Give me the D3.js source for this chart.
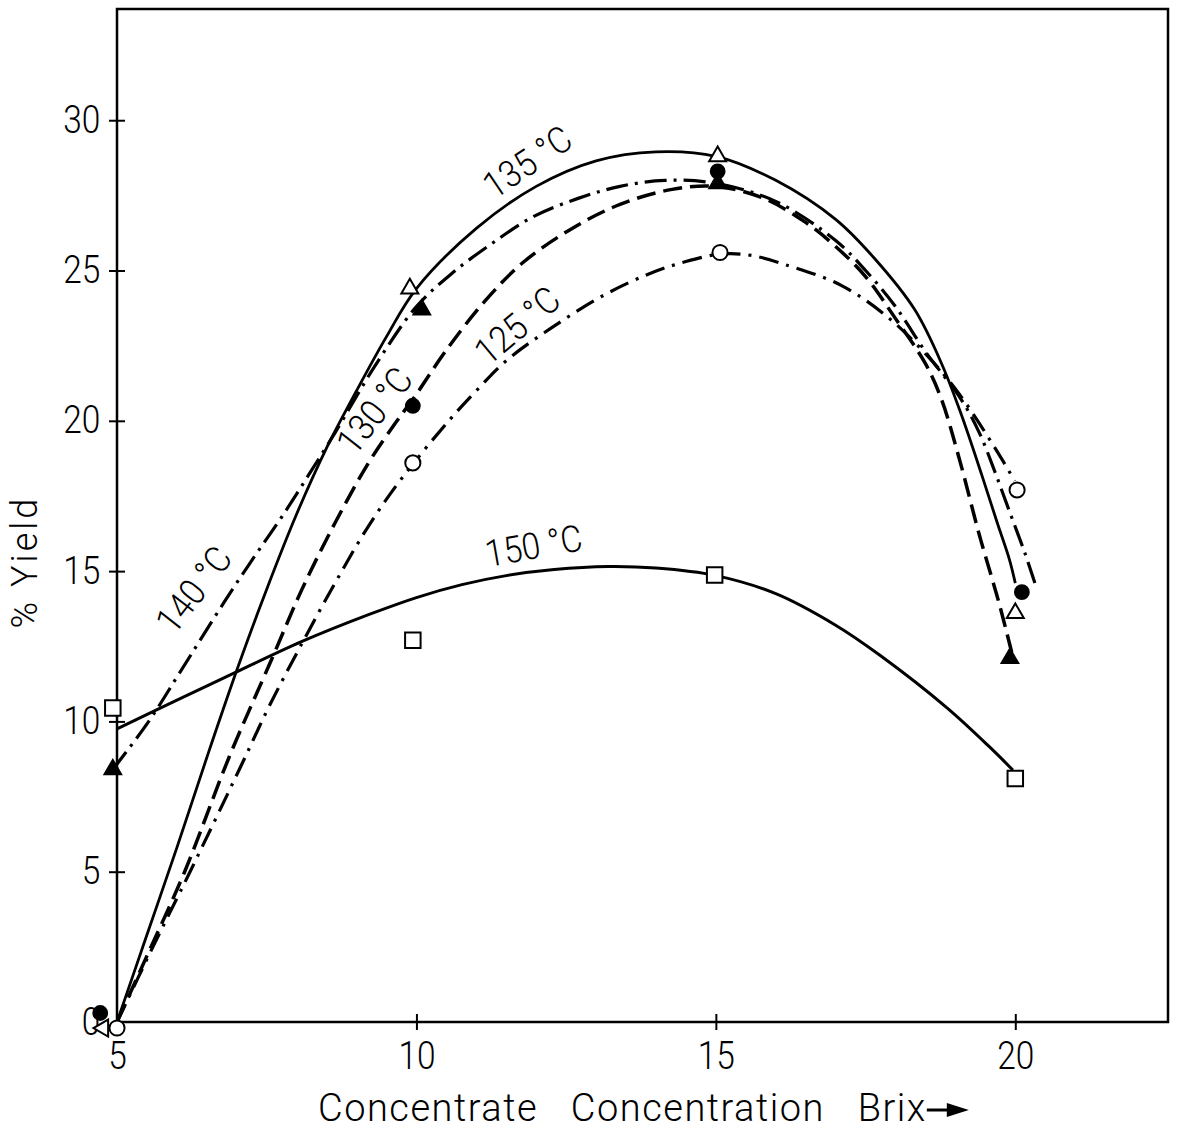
<!DOCTYPE html>
<html>
<head>
<meta charset="utf-8">
<script src="https://cdn.jsdelivr.net/npm/d3@7"></script>
<style>
  body { margin: 0; background: #fff; }
  text { font-family: "Roboto", "DejaVu Sans", sans-serif; font-weight: 300; fill: #000; }
</style>
</head>
<body>
<svg id="chart" width="1184" height="1131"></svg>
<script>
// tick values
const xTickVals = [5, 10, 15, 20];
const yTickVals = [0, 5, 10, 15, 20, 25, 30];

// measured points (markers)
const pts125X = [5.0, 9.94, 15.07, 20.03];
const pts125Y = [-0.2, 18.6, 25.6, 17.7];
const pts130X = [4.72, 9.94, 15.03, 20.11];
const pts130Y = [0.3, 20.5, 28.3, 14.3];
const pts135X = [4.77, 9.89, 15.03, 20.0];
const pts135Y = [-0.2, 24.4, 28.8, 13.6];
const pts135Rot = [-90, 0, 0, 0];
const pts140X = [4.93, 10.09, 15.03, 19.91];
const pts140Y = [8.4, 23.7, 27.9, 12.1];
const pts150X = [4.93, 9.94, 14.98, 20.0];
const pts150Y = [10.45, 12.7, 14.87, 8.1];

// hand drawn fitted curves
const curve125X = [5, 5.6, 6.22, 7.09, 7.54, 8.09, 8.64, 9.2, 9.76, 10.54, 11, 11.5, 12.26, 13.15, 13.9, 14.5, 15.1, 15.6, 16.15, 17.1, 17.9, 18.56, 19.06, 19.66, 19.99];
const curve125Y = [0, 2.5, 5.0, 8.6, 10.5, 12.6, 14.6, 16.5, 18.1, 20.0, 21.0, 22.0, 23.1, 24.2, 24.9, 25.3, 25.55, 25.5, 25.2, 24.5, 23.4, 22.1, 20.9, 19.1, 18.0];
const curve130X = [5, 5.5, 6.13, 6.87, 7.59, 8.09, 8.64, 9.2, 9.64, 9.97, 10.48, 11.15, 11.8, 12.6, 13.4, 14.27, 15.0, 15.8, 16.5, 17, 17.5, 18, 18.5, 18.77, 19.07, 19.4, 19.72, 19.94];
const curve130Y = [0, 2.2, 5.0, 8.8, 12.1, 14.4, 16.6, 18.6, 19.9, 20.8, 22.3, 24.0, 25.3, 26.4, 27.2, 27.7, 27.8, 27.4, 26.6, 25.8, 24.8, 23.4, 21.9, 20.7, 18.7, 16.2, 14.0, 12.3];
const curve135X = [5, 5.5, 6, 6.5, 7, 7.5, 8, 8.5, 9, 9.5, 10, 11, 12, 13, 14, 15, 16, 17, 17.65, 18.32, 18.77, 19.1, 19.44, 19.7, 19.9, 20.0];
const curve135Y = [0, 2.9, 5.8, 8.8, 11.7, 14.4, 16.9, 19.1, 21.0, 22.8, 24.4, 26.4, 27.8, 28.65, 28.95, 28.8, 28.0, 26.7, 25.4, 23.7, 21.9, 20.2, 18.2, 16.6, 15.4, 14.6];
const curve140X = [4.93, 5.53, 6.04, 6.8, 7.3, 7.75, 8.2, 8.64, 9.3, 10.0, 10.59, 11.26, 11.96, 12.7, 13.4, 14.15, 15.0, 16, 17, 17.5, 18, 18.5, 19.1, 19.4, 19.66, 19.9, 20.16, 20.36];
const curve140Y = [8.4, 10.0, 11.6, 14.0, 15.5, 16.8, 18.2, 19.6, 21.8, 23.8, 24.9, 25.9, 26.8, 27.4, 27.8, 28.0, 27.9, 27.3, 26.0, 25.0, 23.8, 22.3, 20.7, 19.6, 18.3, 17.0, 15.6, 14.4];
const curve150X = [5, 6.08, 6.97, 8.09, 9.2, 10, 10.76, 11.5, 12.3, 13.2, 14, 15, 16, 17, 17.74, 18.86, 19.57, 19.96];
const curve150Y = [9.75, 10.78, 11.62, 12.66, 13.55, 14.12, 14.55, 14.85, 15.05, 15.15, 15.1, 14.85, 14.25, 13.2, 12.2, 10.45, 9.15, 8.38];

// curve labels
const labelText = ["125 °C", "130 °C", "135 °C", "140 °C", "150 °C"];
const labelX = [11.2, 8.97, 11.3, 5.95, 11.19];
const labelY = [21.8, 18.8, 27.35, 12.84, 15.14];
const labelAngle = [-40, -52, -34, -52, -10];

const svg = d3.select("#chart");
const x = d3.scaleLinear().domain([5, 22.55]).range([117, 1168]);
const y = d3.scaleLinear().domain([0, 33.7]).range([1022, 9]);

// frame
svg.append("rect")
    .attr("x", x(5)).attr("y", y(33.7))
    .attr("width", x(22.55) - x(5)).attr("height", y(0) - y(33.7))
    .attr("fill", "none").attr("stroke", "#000").attr("stroke-width", 2.5)

// axes
var xAxis = svg.append("g")
    .attr("transform", `translate(0,${y(0)})`)
    .call(d3.axisBottom(x).tickValues(xTickVals).tickSize(8).tickPadding(12).tickFormat(d => d))
xAxis.select(".domain").remove()
xAxis.selectAll(".tick line").attr("y1", -8).attr("stroke-width", 2)
    .filter(d => d === 5).remove()
xAxis.selectAll(".tick text").attr("font-size", 38).attr("font-family", null)
    .attr("transform", "scale(0.88,1)")

var yAxis = svg.append("g")
    .attr("transform", `translate(${x(5)},0)`)
    .call(d3.axisLeft(y).tickValues(yTickVals).tickSize(8).tickPadding(11).tickFormat(d => d))
yAxis.select(".domain").remove()
yAxis.selectAll(".tick line").attr("x1", 8).attr("stroke-width", 2)
    .filter(d => d === 0).remove()
yAxis.selectAll(".tick text").attr("font-size", 38).attr("font-family", null)
    .attr("transform", "scale(0.88,1)")

// curves
const curves = [
    { xs: curve125X, ys: curve125Y, dash: "20,8,3,8", w: 3.2 },
    { xs: curve130X, ys: curve130Y, dash: "19,8", w: 3.5 },
    { xs: curve135X, ys: curve135Y, dash: null, w: 2.8 },
    { xs: curve140X, ys: curve140Y, dash: "22,7,3,7", w: 3.2 },
    { xs: curve150X, ys: curve150Y, dash: null, w: 3 }
]
const line = d3.line()
    .x(d => x(d[0]))
    .y(d => y(d[1]))
    .curve(d3.curveCatmullRom.alpha(0.5))

curves.forEach(c => {
    svg.append("path")
        .datum(c.xs.map((v, i) => [v, c.ys[i]]))
        .attr("d", line)
        .attr("fill", "none")
        .attr("stroke", "#000")
        .attr("stroke-width", c.w)
        .attr("stroke-dasharray", c.dash)
        .attr("stroke-linecap", "butt")
})

// markers
function drawMarkers(xs, ys, type, size, filled, rots) {
    svg.append("g").selectAll("path")
        .data(xs.map((v, i) => [v, ys[i], rots ? rots[i] : 0]))
        .enter()
        .append("path")
        .attr("d", d3.symbol().type(type).size(size))
        .attr("transform", d => `translate(${x(d[0])},${y(d[1])}) rotate(${d[2]})`)
        .attr("fill", filled ? "#000" : "#fff")
        .attr("stroke", "#000")
        .attr("stroke-width", 2)
}
drawMarkers(pts150X, pts150Y, d3.symbolSquare, 240, false)
drawMarkers(pts125X, pts125Y, d3.symbolCircle, 180, false)
drawMarkers(pts140X, pts140Y, d3.symbolTriangle, 120, true)
drawMarkers(pts130X, pts130Y, d3.symbolCircle, 150, true)
drawMarkers(pts135X, pts135Y, d3.symbolTriangle, 125, false, pts135Rot)

// curve labels
svg.append("g").selectAll("text")
    .data(labelText)
    .enter()
    .append("text")
    .attr("transform", (d, i) => `translate(${x(labelX[i])},${y(labelY[i])}) rotate(${labelAngle[i]}) scale(0.9,1)`)
    .attr("font-size", 37)
    .text(d => d)

// axis titles
const xTitle = svg.append("text")
    .attr("x", 318).attr("y", 1121)
    .attr("font-size", 38)
    .attr("word-spacing", 22)
    .attr("letter-spacing", 1.5)
    .text("Concentrate Concentration Brix")
const xb = xTitle.node().getBBox()
svg.append("line")
    .attr("x1", xb.x + xb.width).attr("x2", xb.x + xb.width + 22)
    .attr("y1", 1110).attr("y2", 1110)
    .attr("stroke", "#000").attr("stroke-width", 3)
svg.append("path")
    .attr("d", `M${xb.x + xb.width + 20},1103 L${xb.x + xb.width + 42},1110 L${xb.x + xb.width + 20},1117 Z`)
    .attr("fill", "#000")

svg.append("text")
    .attr("transform", `translate(37,562) rotate(-90)`)
    .attr("text-anchor", "middle")
    .attr("font-size", 36)
    .attr("letter-spacing", 3)
    .text("% Yield")
</script>
</body>
</html>
